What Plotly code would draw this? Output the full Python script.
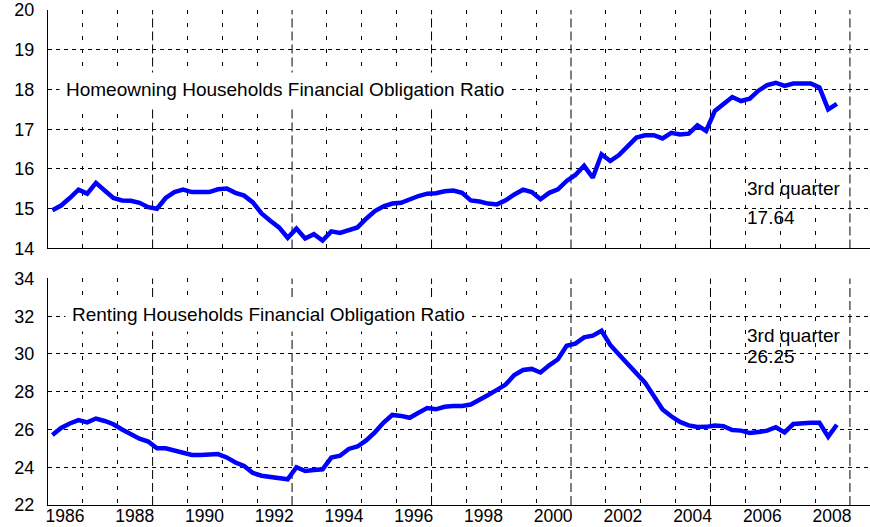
import plotly.graph_objects as go

# ---------------- data ----------------
years = list(range(1986, 2009))
quarters = [f"{y}Q{q}" for y in years for q in range(1, 5)][:91]  # 1986Q1 .. 2008Q3

homeowner_for = [
    14.96, 15.08, 15.27, 15.48,
    15.38, 15.65, 15.46, 15.27,
    15.21, 15.20, 15.15, 15.04,
    15.00, 15.27, 15.42, 15.48,
    15.42, 15.42, 15.42, 15.49,
    15.51, 15.40, 15.33, 15.16,
    14.88, 14.70, 14.53, 14.27,
    14.50, 14.25, 14.36, 14.20,
    14.43, 14.39, 14.45, 14.53,
    14.75, 14.94, 15.06, 15.13,
    15.15, 15.25, 15.32, 15.38,
    15.39, 15.44, 15.46, 15.40,
    15.21, 15.18, 15.13, 15.11,
    15.21, 15.36, 15.48, 15.42,
    15.24, 15.40, 15.49, 15.70,
    15.85, 16.08, 15.78, 16.37,
    16.20, 16.35, 16.59, 16.79,
    16.85, 16.85, 16.77, 16.91,
    16.87, 16.89, 17.10, 16.96,
    17.46, 17.63, 17.81, 17.71,
    17.77, 17.97, 18.11, 18.17,
    18.09, 18.15, 18.15, 18.15,
    18.05, 17.50, 17.64,
]

renter_for = [
    25.71, 26.08, 26.32, 26.50,
    26.38, 26.58, 26.45, 26.28,
    26.00, 25.73, 25.51, 25.36,
    25.00, 25.00, 24.90, 24.76,
    24.65, 24.65, 24.70, 24.70,
    24.52, 24.25, 24.07, 23.70,
    23.55, 23.47, 23.41, 23.36,
    24.00, 23.80, 23.85, 23.89,
    24.51, 24.61, 24.97, 25.10,
    25.42, 25.85, 26.37, 26.77,
    26.72, 26.62, 26.89, 27.14,
    27.07, 27.20, 27.24, 27.25,
    27.32, 27.55, 27.83, 28.10,
    28.38, 28.89, 29.15, 29.21,
    29.02, 29.40, 29.72, 30.44,
    30.55, 30.88, 30.97, 31.23,
    30.48, 29.97, 29.50, 28.98,
    28.48, 27.78, 27.06, 26.70,
    26.40, 26.22, 26.13, 26.14,
    26.21, 26.17, 25.97, 25.94,
    25.81, 25.87, 25.94, 26.12,
    25.85, 26.29, 26.35, 26.36,
    26.36, 25.62, 26.25,
]

tick_years = list(range(1986, 2009, 2))
tick_labels = [str(y) for y in tick_years]
minor_grid_years = [1987, 1991, 1995, 1999, 2003, 2007]
long_grid_years = [1989, 1993, 1997, 2001, 2005, 2009]

title_top = "Homeowning Households Financial Obligation Ratio"
title_bottom = "Renting Households Financial Obligation Ratio"
latest_label = "3rd quarter"
latest_top = "17.64"
latest_bottom = "26.25"

# quarter categories placed at the middle of each quarter
def qpos(label):
    y, q = label.split("Q")
    return int(y) + (int(q) - 0.5) / 4

xq = [qpos(q) for q in quarters]

# ---------------- figure ----------------
FONT = "Arial, 'Liberation Sans', sans-serif"
BLUE = "#0000FF"
GRID = "#000000"

fig = go.Figure()
fig.add_trace(go.Scatter(x=xq, y=homeowner_for, mode="lines",
                         line=dict(color=BLUE, width=4.5), xaxis="x", yaxis="y",
                         hoverinfo="skip"))
fig.add_trace(go.Scatter(x=xq, y=renter_for, mode="lines",
                         line=dict(color=BLUE, width=4.5), xaxis="x2", yaxis="y2",
                         hoverinfo="skip"))

xcommon = dict(
    range=[1986, 2009.575],
    tickmode="array",
    tickvals=tick_years,
    ticks="",
    showgrid=True, gridcolor=GRID, gridwidth=1, griddash="4px,9px",
    minor=dict(tickmode="array", tickvals=minor_grid_years, showgrid=True,
               gridcolor=GRID, gridwidth=1, griddash="4px,9px", ticks=""),
    showline=True, linecolor="black", linewidth=1,
    zeroline=False, automargin=False,
)

ycommon = dict(
    showgrid=True, gridcolor=GRID, gridwidth=1, griddash="4px,4px",
    showline=True, linecolor="black", linewidth=1, ticks="",
    zeroline=False, ticklabelstandoff=9, tickfont=dict(size=18),
    automargin=False,
)

fig.update_layout(
    width=870, height=527,
    margin=dict(l=48, r=0, t=10, b=22),
    paper_bgcolor="white", plot_bgcolor="white",
    showlegend=False,
    font=dict(family=FONT, size=18, color="black"),
    xaxis=dict(**xcommon, domain=[0, 1], anchor="y", showticklabels=False),
    xaxis2=dict(**xcommon, domain=[0, 1], anchor="y2", matches="x",
                showticklabels=True, ticktext=tick_labels, ticklabelshift=17,
                ticklabelstandoff=-5, tickfont=dict(size=17.5)),
    yaxis=dict(**ycommon, domain=[0.5182, 1], range=[14, 20], dtick=1, tick0=14),
    yaxis2=dict(**ycommon, domain=[0, 0.4576], range=[22, 34], dtick=2, tick0=22),
)

# longer-dashed vertical gridlines every four years
for yr in long_grid_years:
    for xr, yr_ref in (("x", "y domain"), ("x2", "y2 domain")):
        fig.add_shape(type="line", xref=xr, yref=yr_ref, x0=yr, x1=yr, y0=0, y1=1,
                      line=dict(color=GRID, width=1, dash="9px,4px"), layer="below")

ann_font = dict(family=FONT, size=19, color="black")
fig.add_annotation(x=1986.31, y=18.01, xref="x", yref="y", text=title_top,
                   showarrow=False, xanchor="left", yanchor="middle", font=ann_font,
                   bgcolor="white", borderpad=6)
fig.add_annotation(x=1986.48, y=32.07, xref="x2", yref="y2", text=title_bottom,
                   showarrow=False, xanchor="left", yanchor="middle", font=ann_font,
                   bgcolor="white", borderpad=6)
fig.add_annotation(x=2006.0, y=15.51, xref="x", yref="y", text=latest_label,
                   showarrow=False, xanchor="left", yanchor="middle", font=ann_font)
fig.add_annotation(x=2006.0, y=14.78, xref="x", yref="y", text=latest_top,
                   showarrow=False, xanchor="left", yanchor="middle", font=ann_font)
fig.add_annotation(x=2006.0, y=31.0, xref="x2", yref="y2", text=latest_label,
                   showarrow=False, xanchor="left", yanchor="middle", font=ann_font)
fig.add_annotation(x=2006.0, y=29.86, xref="x2", yref="y2", text=latest_bottom,
                   showarrow=False, xanchor="left", yanchor="middle", font=ann_font)

fig.write_html(
    "out.html",
    config={"displayModeBar": False},
    post_script="document.body.style.margin='0px';document.body.style.overflow='hidden';",
)
